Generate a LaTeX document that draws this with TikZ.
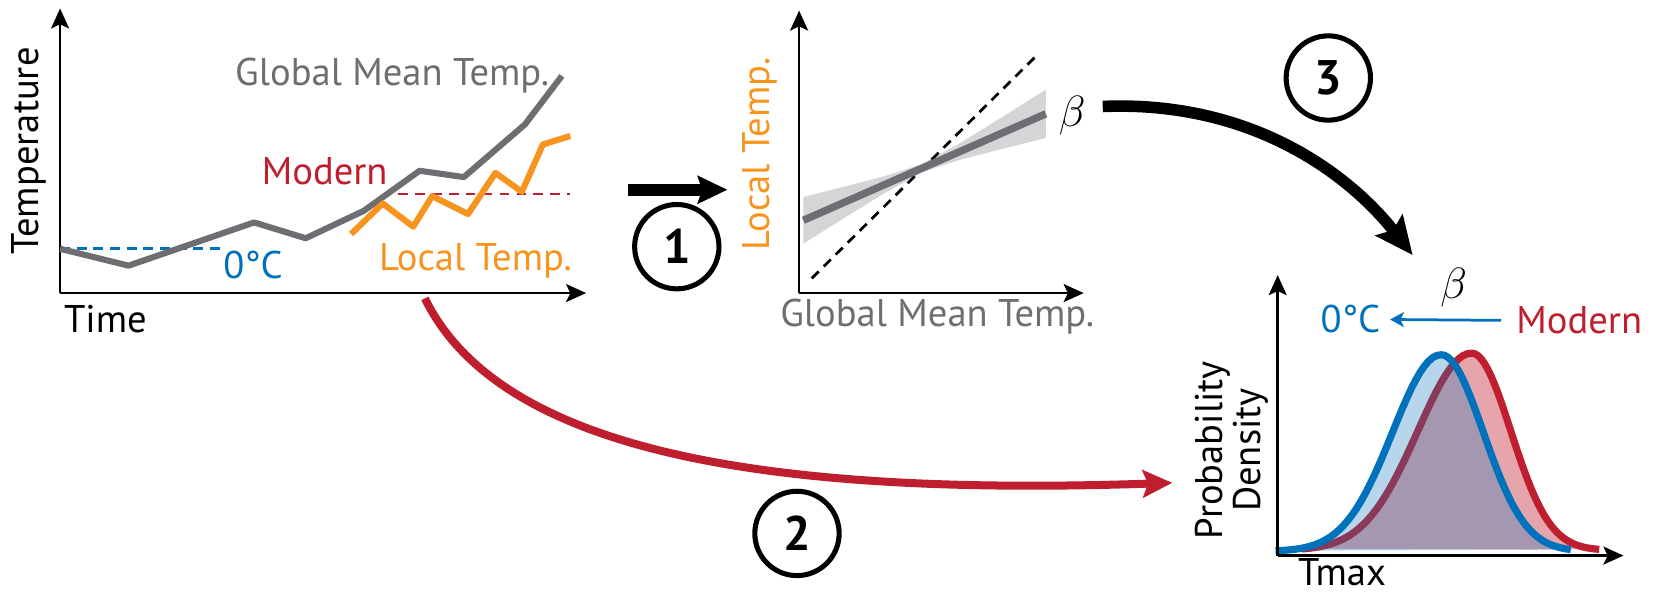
\documentclass[tikz,border=0pt]{standalone}
\usepackage{fontspec}
\setmainfont{PT Sans}
\usetikzlibrary{arrows.meta, positioning}
\definecolor{gmtgray}{RGB}{109,110,113}
\definecolor{bandgray}{RGB}{212,213,215}
\definecolor{localorange}{RGB}{247,148,29}
\definecolor{modernred}{RGB}{190,30,45}
\definecolor{zeroblue}{RGB}{0,114,188}
\definecolor{zerofill}{RGB}{20,120,190}

\begin{document}
\begin{tikzpicture}[x=0.5pt, y=-0.5pt,
    axis/.style={line width=1.3pt, -{Stealth[length=9.5pt, width=8.5pt, inset=2pt]}},
    lbl/.style={inner sep=0pt, font=\fontsize{18.3}{18}\selectfont},
    stepnum/.style={circle, draw, line width=2.4pt, minimum size=40pt, inner sep=0pt,
                    font=\fontsize{23}{24}\selectfont\bfseries},
    flow/.style={line width=5.5pt, -{Stealth[length=14pt, width=13pt, inset=2pt]}},
    pdfline/.style={line width=3.4pt, samples=40}
]
    \useasboundingbox (0,0) rectangle (1568,566);

    % panel 1: temperature series
    \coordinate (o1) at (57,278);
    \draw[axis] (o1) -- (57,8);
    \draw[axis] (o1) -- (556,278);
    \node[lbl, rotate=90] (templab) at (27,143) {Temperature};
    \node[lbl] (timelab) at (100,303) {Time};
    \draw[zeroblue, line width=1.3pt, dash pattern=on 4.7pt off 3.2pt] (57,236) -- (210,236);
    \draw[modernred, line width=1pt, dash pattern=on 4.5pt off 3.5pt] (378,184) -- (541,184);
    \draw[gmtgray, line width=2.9pt, line join=round]
        (57,236) -- (122,252) -- (241,211) -- (290,226) -- (345,200)
        -- (398,162) -- (440,168) -- (498,118) -- (533,72);
    \draw[localorange, line width=2.9pt, line join=round]
        (333,222) -- (363,193) -- (392,215) -- (410,186) -- (444,203)
        -- (470,164) -- (495,182) -- (515,137) -- (541,129);
    \node[lbl, text=gmtgray] (gmtlab) at (372,72) {Global Mean Temp.};
    \node[lbl, text=modernred] (modlab) at (308,162) {Modern};
    \node[lbl, text=zeroblue] (zerolab) at (240,251) {0°C};
    \node[lbl, text=localorange] (loclab) at (451,247) {Local Temp.};

    % step 1
    \coordinate (s1a) at (596,180);
    \coordinate (s1b) at (690,180);
    \draw[flow] (s1a) -- (s1b);
    \node[stepnum] (c1) at (642,234) {1};

    % panel 2: regression
    \coordinate (o2) at (758,278);
    \draw[axis] (o2) -- (758,10);
    \draw[axis] (o2) -- (1028,278);
    \node[lbl, rotate=90, text=localorange] (locylab) at (721,146) {Local Temp.};
    \node[lbl, text=gmtgray] (gmtxlab) at (889,300) {Global Mean Temp.};
    \fill[bandgray]
        (762,186.9) -- (800,177.3) -- (840,166.9) -- (875,155.4) -- (910,136.2)
        -- (950,111.4) -- (992,85.1) -- (992,130.9) -- (950,141.4) -- (910,151.8)
        -- (875,163.4) -- (840,182.6) -- (800,207.3) -- (762,231.1) -- cycle;
    \draw[line width=1.3pt, dash pattern=on 4.7pt off 3.3pt] (770,264) -- (984,52);
    \draw[gmtgray, line width=3.5pt] (762,209) -- (992,108);
    \node[font=\fontsize{21}{22}\selectfont] (beta2) at (1017,110) {$\beta$};

    % step 3
    \coordinate (s3a) at (1046,101);
    \coordinate (s3b) at (1340,242);
    \draw[flow, -{Stealth[length=18pt, width=16pt, inset=3pt]}]
        (s3a) .. controls (1190,95) and (1282,168) .. (s3b);
    \node[stepnum] (c3) at (1260,74) {3};

    % step 2
    \coordinate (s2a) at (403,283);
    \coordinate (s2b) at (1112,458);
    \draw[modernred, line width=3.8pt, -{Stealth[length=14pt, width=13pt, inset=2.5pt]}]
        (s2a) .. controls (470,420) and (700,472) .. (s2b);
    \node[stepnum] (c2) at (756,506) {2};

    % panel 3: distributions
    \coordinate (o3) at (1212,527);
    \fill[modernred, opacity=0.4]
        plot[samples=40, domain=1235:1396] (\x, {522-187*exp(-((\x-1396)/51)^2/2)})
        -- plot[samples=40, domain=1396:1517] (\x, {522-187*exp(-((\x-1396)/37)^2/2)})
        -- cycle;
    \draw[modernred, pdfline]
        plot[domain=1235:1396] (\x, {522-187*exp(-((\x-1396)/51)^2/2)})
        -- plot[domain=1396:1517] (\x, {522-187*exp(-((\x-1396)/37)^2/2)});
    \fill[zerofill, opacity=0.3]
        plot[samples=40, domain=1210:1367] (\x, {523-186.5*exp(-((\x-1367)/46)^2/2)})
        -- plot[samples=40, domain=1367:1490] (\x, {523-186.5*exp(-((\x-1367)/40)^2/2)})
        -- cycle;
    \draw[zeroblue, pdfline]
        plot[domain=1210:1367] (\x, {523-186.5*exp(-((\x-1367)/46)^2/2)})
        -- plot[domain=1367:1490] (\x, {523-186.5*exp(-((\x-1367)/40)^2/2)});
    \draw[axis] (o3) -- (1212,261);
    \draw[axis] (o3) -- (1540,527);
    \node[lbl, rotate=90, align=center] (pdlab) at (1168,427) {Probability\\Density};
    \node[lbl] (tmaxlab) at (1273,543) {Tmax};
    \node[lbl, text=modernred] (mod3) at (1498,304) {Modern};
    \node[lbl, text=zeroblue] (zero3) at (1281,303) {0°C};
    \draw[zeroblue, line width=1.3pt, -{Stealth[length=6.5pt, width=7pt, inset=1.5pt]},
          shorten <=7pt, shorten >=4.5pt] (mod3.west) -- (zero3.east);
    \node[font=\fontsize{21}{22}\selectfont] (beta3) at (1379,273) {$\beta$};
\end{tikzpicture}
\end{document}
